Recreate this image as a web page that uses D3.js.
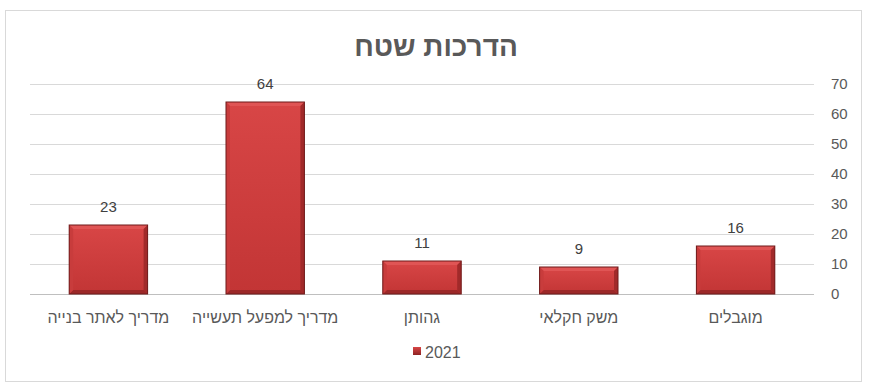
<!doctype html>
<html>
<head>
<meta charset="utf-8">
<style>
  body { margin: 0; background: #fff; }
  text { font-family: "Liberation Sans", Arial, sans-serif; fill: #595959; }
</style>
<script src="https://d3js.org/d3.v7.min.js"></script>
</head>
<body>
<svg width="874" height="390"></svg>
<script>
// data (order as drawn from right to left)
var categories = ["מוגבלים", "משק חקלאי", "גהותן", "מדריך למפעל תעשייה", "מדריך לאתר בנייה"];
var values2021 = [16, 9, 11, 64, 23];
var yTicks = [0, 10, 20, 30, 40, 50, 60, 70];
var seriesName = "2021";
var title = "הדרכות שטח";

var svg = d3.select("svg");

// outer border
svg.append("rect")
    .attr("x", 5.5).attr("y", 10.5)
    .attr("width", 856).attr("height", 371)
    .attr("fill", "#fff")
    .attr("stroke", "#d9d9d9");

svg.append("text")
    .attr("x", 436).attr("y", 56)
    .attr("text-anchor", "middle")
    .attr("font-size", "28px")
    .attr("font-weight", "bold")
    .text(title);

var plotL = 30, plotR = 814, plotT = 84, plotB = 294;

// categories run right to left
var x = d3.scaleBand().domain(categories).range([plotR, plotL]).paddingInner(0.5).paddingOuter(0.25);
var y = d3.scaleLinear().domain([0, 70]).range([plotB, plotT]);

var defs = svg.append("defs");
var grad = defs.append("linearGradient").attr("id", "barFill")
    .attr("x1", 0).attr("y1", 0).attr("x2", 0).attr("y2", 1);
grad.append("stop").attr("offset", "0%").attr("stop-color", "#d84646");
grad.append("stop").attr("offset", "100%").attr("stop-color", "#c23535");

var legGrad = defs.append("linearGradient").attr("id", "legFill")
    .attr("x1", 0).attr("y1", 0).attr("x2", 0).attr("y2", 1);
legGrad.append("stop").attr("offset", "0%").attr("stop-color", "#d84646");
legGrad.append("stop").attr("offset", "100%").attr("stop-color", "#8e2222");

// gridlines
svg.append("g")
    .selectAll("line")
    .data(yTicks)
    .enter().append("line")
    .attr("x1", plotL).attr("x2", plotR)
    .attr("y1", function (d) { return Math.round(y(d)) + 0.5; })
    .attr("y2", function (d) { return Math.round(y(d)) + 0.5; })
    .attr("stroke", function (d) { return d === 0 ? "#bfbfbf" : "#d9d9d9"; });

// y axis on the right
var yAxis = svg.append("g")
    .attr("transform", "translate(" + plotR + ",0)")
    .call(d3.axisRight(y).tickValues(yTicks).tickSize(0).tickPadding(17));
yAxis.select(".domain").remove();
yAxis.selectAll("text")
    .attr("font-size", "15px")
    .style("font-family", "\"Liberation Sans\", Arial, sans-serif")
    .attr("fill", "#595959");

// bars
var bw = x.bandwidth();
var bars = svg.append("g")
    .selectAll("g")
    .data(categories)
    .enter().append("g");

bars.append("rect")
    .attr("x", function (d) { return x(d); })
    .attr("y", function (d, i) { return y(values2021[i]); })
    .attr("width", bw)
    .attr("height", function (d, i) { return plotB - y(values2021[i]); })
    .attr("fill", "url(#barFill)");

// bevel: light top, darker sides and bottom
var bev = 4;
bars.append("path")
    .attr("d", function (d, i) {
        var x0 = x(d), y0 = y(values2021[i]);
        return "M" + x0 + "," + y0 + "L" + (x0 + bw) + "," + y0 +
            "L" + (x0 + bw - bev) + "," + (y0 + bev) + "L" + (x0 + bev) + "," + (y0 + bev) + "Z";
    })
    .attr("fill", "#e05555");
bars.append("path")
    .attr("d", function (d, i) {
        var x0 = x(d) + bw, y0 = y(values2021[i]);
        return "M" + x0 + "," + y0 + "L" + x0 + "," + plotB +
            "L" + (x0 - bev) + "," + (plotB - bev) + "L" + (x0 - bev) + "," + (y0 + bev) + "Z";
    })
    .attr("fill", "#a12a2a");
bars.append("path")
    .attr("d", function (d, i) {
        var x0 = x(d);
        return "M" + x0 + "," + plotB + "L" + (x0 + bw) + "," + plotB +
            "L" + (x0 + bw - bev) + "," + (plotB - bev) + "L" + (x0 + bev) + "," + (plotB - bev) + "Z";
    })
    .attr("fill", "#9c2828");
bars.append("path")
    .attr("d", function (d, i) {
        var x0 = x(d), y0 = y(values2021[i]);
        return "M" + x0 + "," + y0 + "L" + x0 + "," + plotB +
            "L" + (x0 + bev) + "," + (plotB - bev) + "L" + (x0 + bev) + "," + (y0 + bev) + "Z";
    })
    .attr("fill", "#c83c3c");
bars.append("rect")
    .attr("x", function (d) { return x(d); })
    .attr("y", function (d, i) { return y(values2021[i]); })
    .attr("width", bw)
    .attr("height", function (d, i) { return plotB - y(values2021[i]); })
    .attr("fill", "none")
    .attr("stroke", "#6e1a1a")
    .attr("stroke-width", 1);

// value labels
bars.append("text")
    .attr("x", function (d) { return x(d) + bw / 2; })
    .attr("y", function (d, i) { return y(values2021[i]) - 13; })
    .attr("text-anchor", "middle")
    .attr("font-size", "15px")
    .style("fill", "#404040")
    .text(function (d, i) { return values2021[i]; });

// category labels
bars.append("text")
    .attr("x", function (d) { return x(d) + bw / 2; })
    .attr("y", 323)
    .attr("text-anchor", "middle")
    .attr("font-size", "16px")
    .text(function (d) { return d; });

// legend
svg.append("rect")
    .attr("x", 413).attr("y", 347)
    .attr("width", 8).attr("height", 8)
    .attr("fill", "url(#legFill)");
svg.append("text")
    .attr("x", 425).attr("y", 358)
    .attr("font-size", "16px")
    .text(seriesName);
</script>
</body>
</html>
